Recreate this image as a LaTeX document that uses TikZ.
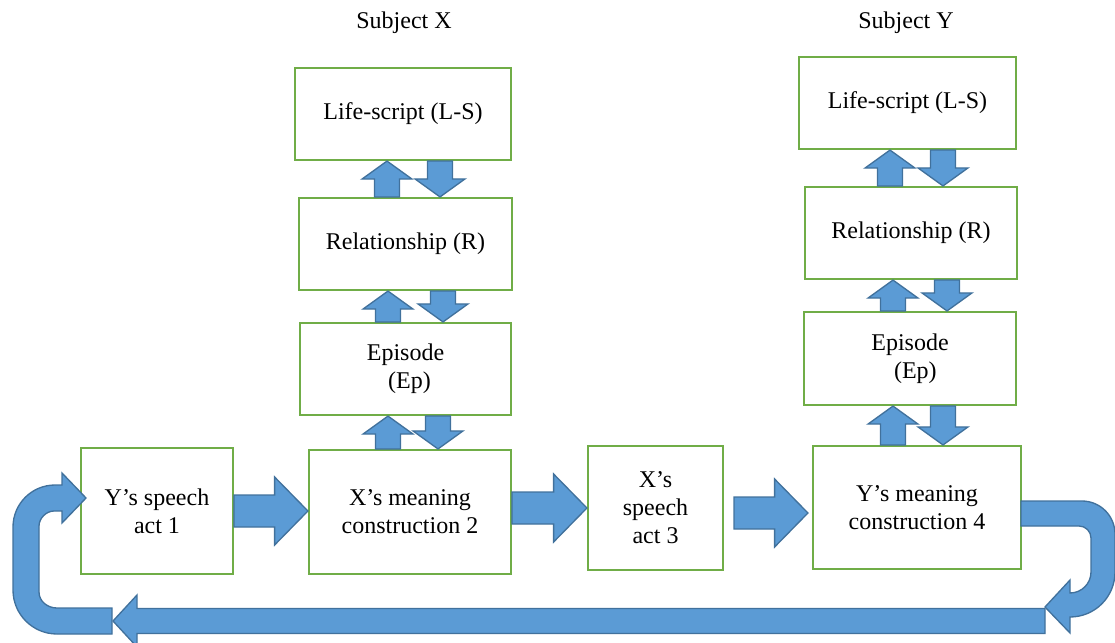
\documentclass[tikz,border=0pt]{standalone}
\usepackage{fontspec}
\setmainfont{Liberation Serif}
\usetikzlibrary{calc}
\definecolor{arrowfill}{HTML}{5B9BD5}
\definecolor{arrowline}{HTML}{41719C}
\definecolor{boxline}{HTML}{70AD47}
\tikzset{
  box/.style={draw=boxline, line width=1.6pt, fill=white, align=center, inner sep=2pt,
    font=\fontsize{18}{21}\selectfont},
  subjlabel/.style={font=\fontsize{18}{21}\selectfont, inner sep=0pt, anchor=base},
  barrow/.style={fill=arrowfill, draw=arrowline, line width=1pt, line join=miter},
}
% block arrow: start, end, shaft half width, head half width, head length
\newcommand{\blockarrow}[5]{%
  \coordinate (ba-s) at (#1);
  \coordinate (ba-e) at (#2);
  \coordinate (ba-b) at ($(ba-e)!#5!(ba-s)$);
  \filldraw[barrow] ($(ba-s)!#3!90:(ba-e)$) -- ($(ba-b)!#3!90:(ba-e)$) --
    ($(ba-b)!#4!90:(ba-e)$) -- (ba-e) -- ($(ba-b)!#4!-90:(ba-e)$) --
    ($(ba-b)!#3!-90:(ba-e)$) -- ($(ba-s)!#3!-90:(ba-e)$) -- cycle;
}
\newcommand{\varrow}[2]{\blockarrow{#1}{#2}{9.4pt}{18.75pt}{13.5pt}}
\newcommand{\harrow}[2]{\blockarrow{#1}{#2}{12pt}{25.5pt}{25pt}}
\begin{document}
\begin{tikzpicture}[x=0.75pt,y=-0.75pt]
\useasboundingbox (0,0) rectangle (1115,643);

% subject labels
\node[subjlabel] (sx) at (404,28) {Subject X};
\node[subjlabel] (sy) at (906,28) {Subject Y};

% subject X column
\node[box, minimum width=162pt, minimum height=69pt] (LS1) at (403,114) {Life-script (L-S)};
\node[box, minimum width=159.75pt, minimum height=69pt] (R1) at (405.5,244) {Relationship (R)};
\node[box, minimum width=158.25pt, minimum height=69pt] (Ep1) at (405.5,369) {Episode\\\hspace{6pt}(Ep)};

% subject Y column
\node[box, minimum width=162.75pt, minimum height=69pt] (LS2) at (907.5,103) {Life-script (L-S)};
\node[box, minimum width=159pt, minimum height=69pt] (R2) at (911,233) {Relationship (R)};
\node[box, minimum width=159pt, minimum height=69.75pt] (Ep2) at (910,358.5) {Episode\\\hspace{8pt}(Ep)};

% bottom row
\node[box, minimum width=114pt, minimum height=94.5pt] (A1) at (157,511) {Y’s speech\\act 1};
\node[box, minimum width=151.5pt, minimum height=93pt] (M2) at (410,512) {X’s meaning\\construction 2};
\node[box, minimum width=101.25pt, minimum height=93pt] (A3) at (655.5,508) {X’s\\speech\\act 3};
\node[box, minimum width=156pt, minimum height=92.25pt] (M4) at (917,507.5) {Y’s meaning\\construction 4};

% vertical arrows, subject X
\varrow{387,0 |- R1.north}{387,0 |- LS1.south}
\varrow{440,0 |- LS1.south}{440,0 |- R1.north}
\varrow{388,0 |- Ep1.north}{388,0 |- R1.south}
\varrow{443,0 |- R1.south}{443,0 |- Ep1.north}
\varrow{388,0 |- M2.north}{388,0 |- Ep1.south}
\varrow{438,0 |- Ep1.south}{438,0 |- M2.north}

% vertical arrows, subject Y
\varrow{890,0 |- R2.north}{890,0 |- LS2.south}
\varrow{943,0 |- LS2.south}{943,0 |- R2.north}
\varrow{893,0 |- Ep2.north}{893,0 |- R2.south}
\varrow{947,0 |- R2.south}{947,0 |- Ep2.north}
\varrow{893,0 |- M4.north}{893,0 |- Ep2.south}
\varrow{943,0 |- Ep2.south}{943,0 |- M4.north}

% horizontal arrows
\harrow{A1.east}{M2.west |- A1.east}
\harrow{M2.east |- A3.west}{A3.west}
\harrow{$(A3.east)+(10,5)$}{$(M4.west)+(-4,5.5)$}

% bottom return arrow
\coordinate (retR) at (1045,621);
\coordinate (retL) at (113,621);
\blockarrow{retR}{retL}{9.4pt}{19.5pt}{18pt}

% right U-turn (from construction 4 down to the return arrow)
\filldraw[barrow] (1021,501) -- (1082,501)
  .. controls (1100.2,501) and (1115,515.8) .. (1115,534) -- (1115,572)
  .. controls (1115,596.9) and (1094.9,617) .. (1070,617) -- (1070,633)
  -- (1045,607) -- (1070,580) -- (1070,593)
  .. controls (1081.6,593) and (1091,583.6) .. (1091,572) -- (1091,538)
  .. controls (1091,531.4) and (1085.6,526) .. (1079,526) -- (1021,526) -- cycle;

% left U-turn (from the return arrow up to speech act 1)
\filldraw[barrow] (86,498) -- (62,523) -- (62,511) -- (54,511)
  .. controls (46.3,511) and (39,518.3) .. (39,526) -- (39,592)
  .. controls (39,601.4) and (47.6,608) .. (57,608) -- (112,608) -- (112,634)
  -- (57,634) .. controls (32.7,634) and (13,614.3) .. (13,590) -- (13,527)
  .. controls (13,503.8) and (31.8,485) .. (55,485) -- (62,485) -- (62,473) -- cycle;
\end{tikzpicture}
\end{document}
